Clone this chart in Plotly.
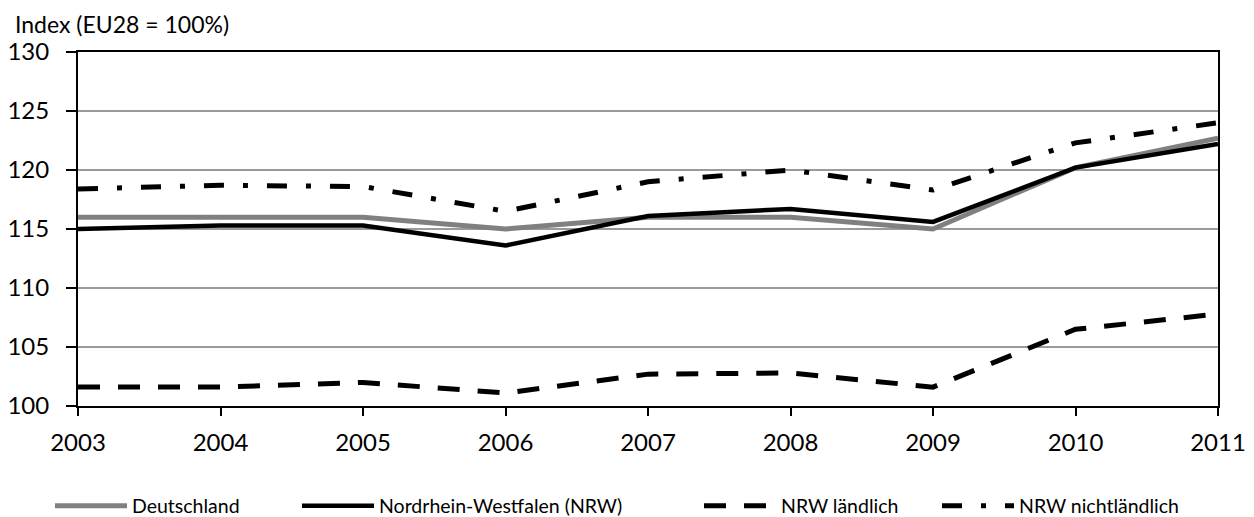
import plotly.graph_objects as go

years = [2003, 2004, 2005, 2006, 2007, 2008, 2009, 2010, 2011]
deutschland = [116.0, 116.0, 116.0, 115.0, 116.0, 116.0, 115.0, 120.2, 122.7]
nrw = [115.0, 115.3, 115.3, 113.6, 116.1, 116.7, 115.6, 120.2, 122.2]
nrw_laendlich = [101.6, 101.6, 102.0, 101.1, 102.7, 102.8, 101.6, 106.5, 107.8]
nrw_nichtlaendlich = [118.4, 118.7, 118.6, 116.5, 119.0, 120.0, 118.3, 122.3, 124.0]

names = ["Deutschland", "Nordrhein-Westfalen (NRW)", "NRW ländlich", "NRW nichtländlich"]
y_title = "Index (EU28 = 100%)"

FONT = "Lato"
W, H = 1254, 517

fig = go.Figure()
series = [
    (deutschland, names[0], dict(color="#808080", width=5, dash="solid"), "legend"),
    (nrw, names[1], dict(color="#000000", width=4.5, dash="solid"), "legend2"),
    (nrw_laendlich, names[2], dict(color="#000000", width=5, dash="22px,18px"), "legend3"),
    (nrw_nichtlaendlich, names[3], dict(color="#000000", width=5, dash="20px,19px,5px,19px"), "legend4"),
]
for vals, name, line, lg in series:
    fig.add_trace(go.Scatter(x=years, y=vals, name=name, mode="lines", line=line,
                             legend=lg, hoverinfo="skip"))

leg_x = [50, 297, 699, 937]
common_leg = dict(orientation="h", xref="container", yref="container", y=1 - 506 / H,
                  yanchor="middle", xanchor="left", font=dict(family=FONT, size=19.5, color="#000"),
                  bgcolor="rgba(0,0,0,0)", itemwidth=72, tracegroupgap=0)
legs = {}
for i, key in enumerate(["legend", "legend2", "legend3", "legend4"]):
    legs[key] = dict(common_leg, x=leg_x[i] / W)

fig.update_layout(
    width=W, height=H,
    margin=dict(l=78, r=36, t=52, b=111, pad=0, autoexpand=False),
    paper_bgcolor="white", plot_bgcolor="white",
    font=dict(family=FONT, size=24, color="#000"),
    showlegend=True,
    **legs,
    xaxis=dict(range=[2003, 2011], tickmode="array", tickvals=years, ticktext=[str(y) for y in years],
               showgrid=False, zeroline=False, showline=True, linecolor="#000", linewidth=2,
               mirror=True, ticks="outside", ticklen=8, tickwidth=2, tickcolor="#000",
               ticklabelstandoff=6,
               tickfont=dict(family=FONT, size=24, color="#000")),
    yaxis=dict(range=[100, 130], dtick=5, tick0=100, showgrid=True, gridcolor="#9a9a9a", gridwidth=1.5,
               zeroline=False, showline=True, linecolor="#000", linewidth=2, mirror=True,
               ticks="outside", ticklen=10, tickwidth=2, tickcolor="#000",
               ticklabelstandoff=12,
               tickfont=dict(family=FONT, size=24, color="#000")),
    annotations=[dict(text=y_title, xref="paper", yref="paper", x=-65 / 1140, y=1.0, yshift=12,
                      xanchor="left", yanchor="bottom", showarrow=False,
                      font=dict(family=FONT, size=23, color="#000"))],
)

fig.write_html("out.html", config={"displayModeBar": False},
               post_script="document.body.style.margin='0';document.body.style.overflow='hidden';")
